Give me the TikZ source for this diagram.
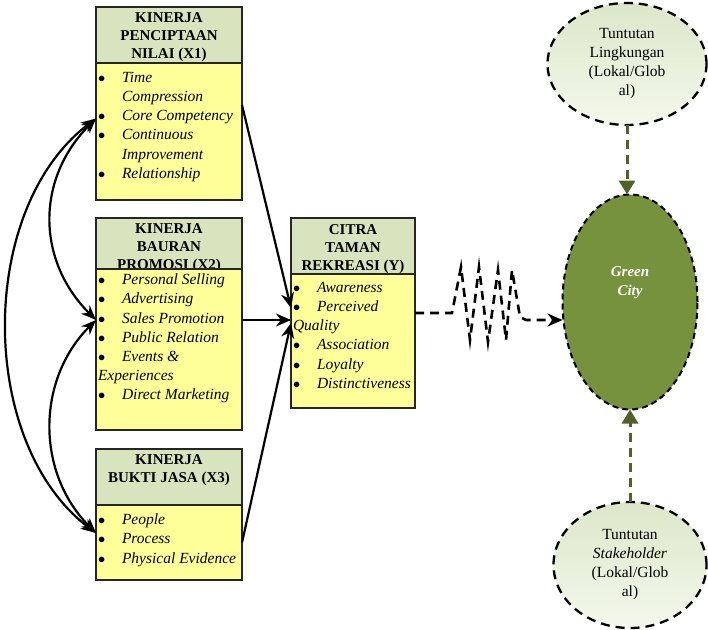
\documentclass[tikz,border=0pt]{standalone}
\usepackage{fontspec}
\setmainfont{Liberation Serif}
\usepackage{tikz}
\usetikzlibrary{positioning,shapes.geometric,arrows.meta}
\definecolor{hijauKepala}{HTML}{D7E4BD}
\definecolor{kuningIsi}{HTML}{FFFF99}
\definecolor{hijauKota}{HTML}{76923C}
\definecolor{zaitun}{HTML}{4F6228}
\definecolor{hijauPucat}{HTML}{DCE7C9}
\definecolor{putihHijau}{HTML}{F4F8EC}
\colorlet{garisKotak}{black!85}

\newcommand{\butir}[1]{\makebox[24pt][l]{$\bullet$}\textit{#1}}
\newcommand{\lanjut}[1]{\hspace*{24pt}\textit{#1}}

\begin{document}
\begin{tikzpicture}[x=1pt, y=-1pt, every node/.style={outer sep=0pt},
        kepala/.style={draw=garisKotak, line width=1.7pt, fill=hijauKepala, inner sep=0pt},
        isi/.style={draw=garisKotak, line width=1.7pt, fill=kuningIsi, inner sep=0pt},
        judul/.style={font=\fontsize{15}{18}\selectfont\bfseries, align=center, inner sep=0pt},
        daftar/.style={font=\fontsize{15.5}{19.2}\selectfont\itshape, align=left, inner sep=0pt},
        panah/.style={line width=2.2pt, -{Stealth[length=15pt,width=13pt]}},
        duaarah/.style={line width=2.2pt, {Stealth[length=15pt,width=12pt]}-{Stealth[length=15pt,width=12pt]}},
        tuntutan/.style={ellipse, draw, line width=2.3pt, dash pattern=on 9pt off 6pt, top color=hijauPucat, bottom color=putihHijau, inner sep=0pt, align=center, font=\fontsize{15.5}{19}\selectfont},
        putus/.style={line width=2.6pt, dash pattern=on 9pt off 6pt},
        putuszaitun/.style={draw=zaitun, line width=3pt, dash pattern=on 9pt off 6pt, -{Triangle[length=14pt,width=16pt]}, zaitun}]
    \useasboundingbox (0,0) rectangle (708,629);

    % kotak X1
    \node[kepala, minimum width=146pt, minimum height=56pt] (x1h) at (169,35) {};
    \node[judul, below=6pt of x1h.north] (x1j) {KINERJA\\PENCIPTAAN\\NILAI (X1)};
    \node[isi, minimum width=146pt, minimum height=137pt, below=0pt of x1h] (x1b) {};
    \node[daftar, below right=9pt and 2pt of x1b.north west] (x1d)
        {\butir{Time}\\ \lanjut{Compression}\\ \butir{Core Competency}\\ \butir{Continuous}\\ \lanjut{Improvement}\\ \butir{Relationship}};

    % kotak X2
    \node[kepala, minimum width=146pt, minimum height=51pt] (x2h) at (169,243.5) {};
    \node[judul, below=6pt of x2h.north] (x2j) {KINERJA\\BAURAN\\PROMOSI (X2)};
    \node[isi, minimum width=146pt, minimum height=161pt, below=0pt of x2h] (x2b) {};
    \node[daftar, below right=5pt and 2pt of x2b.north west] (x2d)
        {\butir{Personal Selling}\\ \butir{Advertising}\\ \butir{Sales Promotion}\\ \butir{Public Relation}\\ \butir{Events \&}\\ \textit{Experiences}\\ \butir{Direct Marketing}};

    % kotak X3
    \node[kepala, minimum width=146pt, minimum height=56pt] (x3h) at (169,477) {};
    \node[judul, below=6pt of x3h.north] (x3j) {KINERJA\\BUKTI JASA (X3)};
    \node[isi, minimum width=146pt, minimum height=75pt, below=0pt of x3h] (x3b) {};
    \node[daftar, below right=9pt and 2pt of x3b.north west] (x3d)
        {\butir{People}\\ \butir{Process}\\ \butir{Physical Evidence}};

    % kotak Y
    \node[kepala, minimum width=124pt, minimum height=56pt] (yh) at (353,246) {};
    \node[judul, below=7pt of yh.north] (yj) {CITRA\\TAMAN\\REKREASI (Y)};
    \node[isi, minimum width=124pt, minimum height=134pt, below=0pt of yh] (yb) {};
    \node[daftar, below right=8pt and 2pt of yb.north west] (yd)
        {\butir{Awareness}\\ \butir{Perceived}\\ \textit{Quality}\\ \butir{Association}\\ \butir{Loyalty}\\ \butir{Distinctiveness}};

    % elips
    \node[ellipse, draw, line width=2pt, dash pattern=on 6pt off 4pt, fill=hijauKota, minimum width=135pt, minimum height=215pt, inner sep=0pt,
        label={[yshift=19pt, text=white, align=center, font=\fontsize{15}{19}\selectfont\bfseries\itshape]center:Green\\City}] (kota) at (630,302) {};
    \node[tuntutan, minimum width=159pt, minimum height=122pt] (ling) at (627,64)
        {Tuntutan\\Lingkungan\\(Lokal/Glob\\al)};
    \node[tuntutan, minimum width=153pt, minimum height=126pt] (stak) at (630,565)
        {Tuntutan\\\textit{Stakeholder}\\(Lokal/Glob\\al)};

    % panah X ke Y
    \draw[panah] ([yshift=26.5pt]x1b.east) -- ([yshift=33pt]yb.west);
    \draw[panah] ([yshift=29.5pt]x2b.east) -- ([yshift=21pt]yb.west);
    \draw[panah] (x3b.east) -- ([yshift=18pt]yb.west);

    % korelasi antar X
    \draw[duaarah] ([yshift=13pt]x1b.west) .. controls +(-60,60) and +(-60,-60) .. ([yshift=29.5pt]x2b.west);
    \draw[duaarah] ([yshift=29.5pt]x2b.west) .. controls +(-60,60) and +(-60,-60) .. ([yshift=9.5pt]x3b.west);
    \draw[duaarah] ([yshift=13pt]x1b.west) .. controls +(-119,90) and +(-119,-90) .. ([yshift=9.5pt]x3b.west);

    % Y ke Green City
    \draw[putus, -{Stealth[length=15pt,width=13pt]}] ([yshift=28pt]yb.east) -- (452,313) -- (461,267) -- (470,340) -- (479,267)
        -- (488,342) -- (498,270) -- (506,340) -- (512,270) -- (520,317) -- (526,320) -- ([yshift=-18pt]kota.west);

    % tuntutan ke Green City
    \draw[putuszaitun] (ling.south) -- (ling.south |- kota.north);
    \draw[putuszaitun] (stak.north) -- (kota.south);
\end{tikzpicture}
\end{document}
